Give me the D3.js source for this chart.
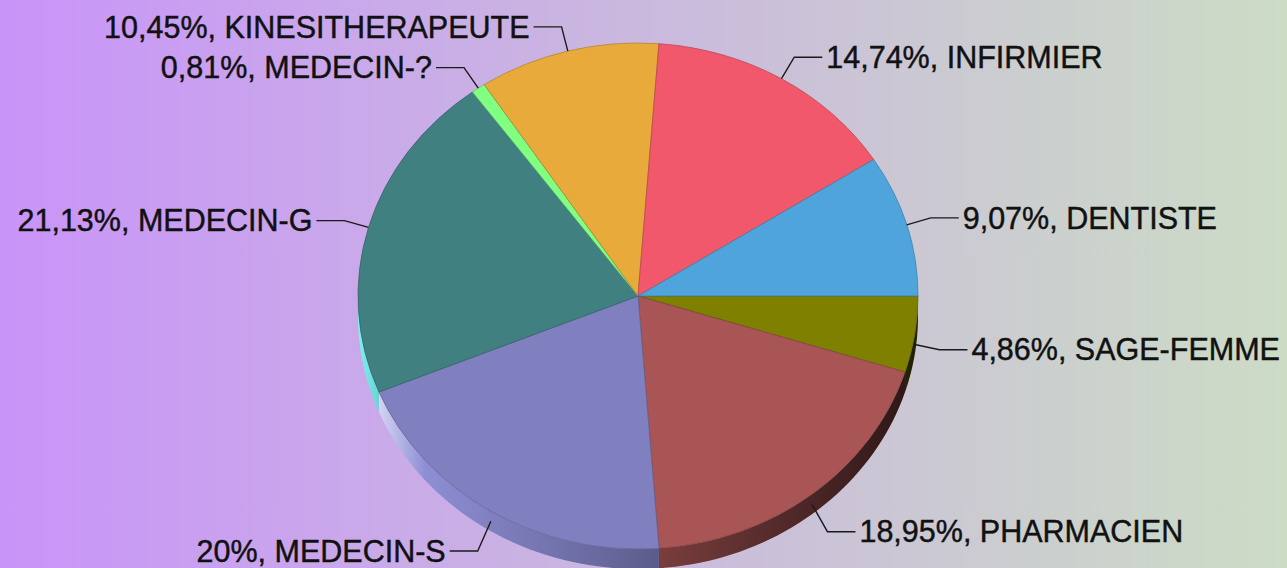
<!DOCTYPE html>
<html>
<head>
<meta charset="utf-8">
<script src="https://d3js.org/d3.v7.min.js"></script>
<style>
  body { margin: 0; overflow: hidden; }
  .label { font-family: "Liberation Sans", Arial, sans-serif; font-size: 30.5px; fill: #111; stroke: #111; stroke-width: 0.45px; }
  .leader { fill: none; stroke: #1a1a1a; stroke-width: 1.4px; }
</style>
</head>
<body>
<div id="chart"></div>
<script>

// data (percent of total)
var categories = ["SAGE-FEMME", "PHARMACIEN", "MEDECIN-S", "MEDECIN-G", "MEDECIN-?", "KINESITHERAPEUTE", "INFIRMIER", "DENTISTE"];
var shares = [4.86, 18.95, 20, 21.13, 0.81, 10.45, 14.74, 9.07];
var colors = ["#808000", "#aa5555", "#8080c0", "#408080", "#80ff80", "#e8aa3a", "#f2586b", "#4fa5db"];

var width = 1287;
var height = 568;

var cx = 638, cy = 296;
var rx = 280, ry = 253;
var depth = 20;

var fr = d3.formatLocale({ decimal: ",", thousands: " ", grouping: [3], currency: ["", " €"] });
var fmt = fr.format(".2~f");

var data = categories.map(function (c, i) {
    return { name: c, value: shares[i], color: colors[i] };
});

var svg = d3.select("#chart")
    .append("svg")
    .attr("width", width)
    .attr("height", height);

var defs = svg.append("defs");

var bg = defs.append("linearGradient")
    .attr("id", "bg")
    .attr("x1", "0%").attr("x2", "100%")
    .attr("y1", "0%").attr("y2", "0%");
bg.append("stop").attr("offset", "0%").attr("stop-color", "#c994f9");
bg.append("stop").attr("offset", "50%").attr("stop-color", "#cab9de");
bg.append("stop").attr("offset", "100%").attr("stop-color", "#ccdcc5");

svg.append("rect")
    .attr("width", width)
    .attr("height", height)
    .attr("fill", "url(#bg)");

// start at 3 o'clock, go clockwise
var pie = d3.pie()
    .sort(null)
    .value(function (d) { return d.value; })
    .startAngle(Math.PI / 2)
    .endAngle(Math.PI / 2 + 2 * Math.PI);

var arcs = pie(data);

function px(a, ex) { return cx + (rx + (ex || 0)) * Math.sin(a); }
function py(a, ex) { return cy - (ry + (ex || 0)) * Math.cos(a); }

// side shading, light on the left, dark on the right
arcs.forEach(function (d, i) {
    var c = d3.color(d.data.color);
    var g = defs.append("linearGradient")
        .attr("id", "side" + i)
        .attr("gradientUnits", "userSpaceOnUse")
        .attr("x1", cx - rx).attr("x2", cx + rx)
        .attr("y1", 0).attr("y2", 0);
    g.append("stop").attr("offset", "0%").attr("stop-color", c.brighter(1.8));
    g.append("stop").attr("offset", "12%").attr("stop-color", c.brighter(0.3));
    g.append("stop").attr("offset", "45%").attr("stop-color", c.darker(0.6));
    g.append("stop").attr("offset", "72%").attr("stop-color", c.darker(1.8));
    g.append("stop").attr("offset", "100%").attr("stop-color", c.darker(3.8));
});

var sideLine = d3.line()
    .x(function (p) { return p[0]; })
    .y(function (p) { return p[1]; });

var sides = svg.append("g").attr("class", "sides");

arcs.forEach(function (d, i) {
    var s = Math.max(d.startAngle, Math.PI / 2);
    var e = Math.min(d.endAngle, 3 * Math.PI / 2);
    if (e <= s) return;
    var steps = d3.range(0, 41).map(function (k) { return s + (e - s) * k / 40; });
    var pts = steps.map(function (a) { return [px(a), py(a)]; });
    var bottom = steps.slice().reverse().map(function (a) { return [px(a), py(a) + depth]; });
    sides.append("path")
        .attr("d", sideLine(pts.concat(bottom)) + "Z")
        .attr("fill", "url(#side" + i + ")");
});

// top faces: circular arcs squashed into an ellipse
var arc = d3.arc().innerRadius(0).outerRadius(rx);

svg.append("g")
    .attr("transform", "translate(" + cx + "," + cy + ") scale(1," + (ry / rx) + ")")
    .selectAll(".slice")
    .data(arcs).enter()
    .append("path")
    .attr("class", "slice")
    .attr("d", arc)
    .attr("fill", function (d) { return d.data.color; })
    .attr("stroke", function (d) { return d3.color(d.data.color).darker(0.8); })
    .attr("stroke-width", 0.7)
    .attr("vector-effect", "non-scaling-stroke");

// labels with elbow leaders
var labels = svg.append("g").attr("class", "labels");

arcs.forEach(function (d) {
    var a = (d.startAngle + d.endAngle) / 2;
    var front = Math.cos(a) < 0;
    var down = front ? 10 : 0;
    var x0 = px(a), y0 = py(a) + down;
    var x1 = px(a, 25), y1 = py(a, 25) + (front ? 10 - 10 * Math.cos(a) : 0);
    var right = Math.sin(a) > 0;
    var x2 = right ? x1 + 28 : x1 - 28;

    labels.append("path")
        .attr("class", "leader")
        .attr("d", sideLine([[x0, y0], [x1, y1], [x2, y1]]));

    labels.append("text")
        .attr("class", "label")
        .attr("x", right ? x2 + 4 : x2 - 4)
        .attr("y", y1)
        .attr("dy", "0.35em")
        .style("text-anchor", right ? "start" : "end")
        .text(fmt(d.data.value) + "%, " + d.data.name);
});

</script>
</body>
</html>
